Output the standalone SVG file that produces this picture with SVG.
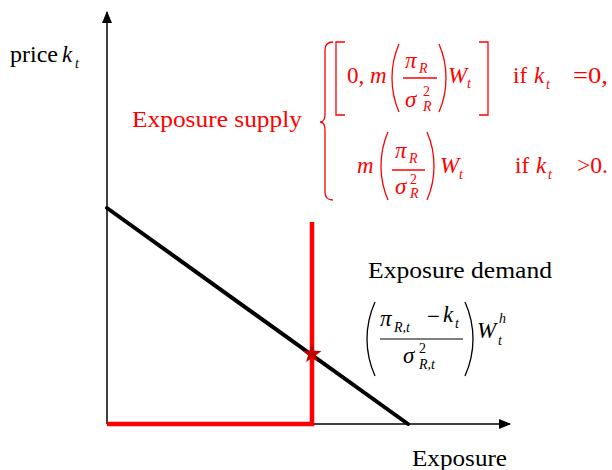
<svg xmlns="http://www.w3.org/2000/svg" width="612" height="470" viewBox="0 0 612 470">
<defs>
<marker id="arr" markerWidth="12" markerHeight="10" refX="11" refY="5" orient="auto" markerUnits="userSpaceOnUse">
<path d="M0,0 L12,5 L0,10 Z" fill="#000"/>
</marker>
</defs>
<style>
text{font-family:'Liberation Serif','DejaVu Serif',serif}
.t{font-size:23px}
.m{font-size:23px;font-style:italic}
.s{font-size:14px;font-style:italic}
.n{font-style:normal}
.r{fill:#ff0000}
.k{fill:#000}
.br{fill:none;stroke-width:1.3}
</style>
<rect width="612" height="470" fill="#fff"/>
<g id="connectors">
<line id="y-axis" x1="107" y1="424" x2="107" y2="12" stroke="#000" stroke-width="1.5" marker-end="url(#arr)"/>
<line id="x-axis" x1="107" y1="424" x2="510" y2="424" stroke="#000" stroke-width="1.5" marker-end="url(#arr)"/>
<line id="demand-line" x1="107" y1="208" x2="408" y2="424" stroke="#000" stroke-width="4" stroke-linecap="round"/>
<polyline id="supply-line" points="107,424 312,424 312,222" fill="none" stroke="#ff0000" stroke-width="4.5"/>
</g>
<g id="equilibrium">
<polygon points="312,344 314.4,350.7 321.5,350.9 315.9,355.3 317.9,362.1 312,358.1 306.1,362.1 308.1,355.3 302.5,350.9 309.6,350.7" fill="#c00000"/>
</g>
<g id="price-label">
<text class="t k" x="10" y="62" textLength="48" lengthAdjust="spacingAndGlyphs">price</text>
<text class="m k" x="62" y="62">k</text>
<text class="s k" x="75" y="68">t</text>
</g>
<g id="exposure-label">
<text class="t k" x="412" y="466" textLength="95" lengthAdjust="spacingAndGlyphs">Exposure</text>
</g>
<g id="supply-label">
<text class="t r" x="132" y="127" textLength="170" lengthAdjust="spacingAndGlyphs">Exposure supply</text>
<path class="br" d="M333,42 Q325,42 325,50 L325,114 Q325,122 320,122 Q325,122 325,130 L325,192 Q325,200 333,200" stroke="#ff0000" stroke-width="1.5"/>
<path class="br" d="M345,42 L336,42 L336,115 L345,115" stroke="#ff0000" stroke-width="1.5"/>
<path class="br" d="M479,42 L488,42 L488,115 L479,115" stroke="#ff0000" stroke-width="1.5"/>
<text class="t r" x="347" y="83">0,</text>
<text class="m r" x="370" y="83" font-size="25">m</text>
<path class="br" d="M399,44 Q392,60 392,78 Q392,96 399,112" stroke="#ff0000"/>
<text class="m r" x="405" y="68">π</text>
<text class="s r" x="419" y="73">R</text>
<line x1="403" y1="78" x2="437" y2="78" stroke="#ff0000" stroke-width="1.3"/>
<text class="m r" x="405" y="107">σ</text>
<text class="s r n" x="423" y="96">2</text>
<text class="s r" x="423" y="111">R</text>
<path class="br" d="M439,44 Q446,60 446,78 Q446,96 439,112" stroke="#ff0000"/>
<text class="m r" x="448" y="83">W</text>
<text class="s r" x="467" y="88">t</text>
<text class="t r" x="513" y="83">if</text>
<text class="m r" x="534" y="83">k</text>
<text class="s r" x="546" y="89">t</text>
<text class="t r" x="573" y="83" textLength="35" lengthAdjust="spacingAndGlyphs">=0,</text>
<text class="m r" x="357" y="173" font-size="25">m</text>
<path class="br" d="M388,132 Q381,148 381,166 Q381,184 388,200" stroke="#ff0000"/>
<text class="m r" x="395" y="158">π</text>
<text class="s r" x="409" y="163">R</text>
<line x1="392" y1="170" x2="425" y2="170" stroke="#ff0000" stroke-width="1.3"/>
<text class="m r" x="395" y="194">σ</text>
<text class="s r n" x="410" y="184">2</text>
<text class="s r" x="410" y="198">R</text>
<path class="br" d="M427,132 Q434,148 434,166 Q434,184 427,200" stroke="#ff0000"/>
<text class="m r" x="440" y="173">W</text>
<text class="s r" x="459" y="179">t</text>
<text class="t r" x="515" y="173">if</text>
<text class="m r" x="536" y="173">k</text>
<text class="s r" x="548" y="179">t</text>
<text class="t r" x="577" y="173" textLength="31" lengthAdjust="spacingAndGlyphs">&gt;0.</text>
</g>
<g id="demand-label">
<text class="t k" x="368" y="278" textLength="184" lengthAdjust="spacingAndGlyphs">Exposure demand</text>
<path class="br" d="M375,302 Q367,320 367,339 Q367,358 375,376" stroke="#000"/>
<text class="m k" x="380" y="326">π</text>
<text class="s k" x="394" y="332">R,t</text>
<text class="t k" x="427" y="324">−</text>
<text class="m k" x="443" y="322">k</text>
<text class="s k" x="455" y="328">t</text>
<line x1="380" y1="339" x2="463" y2="339" stroke="#000" stroke-width="1.2"/>
<text class="m k" x="403" y="363">σ</text>
<text class="s k n" x="419" y="353">2</text>
<text class="s k" x="419" y="369">R,t</text>
<path class="br" d="M465,302 Q473,320 473,339 Q473,358 465,376" stroke="#000"/>
<text class="m k" x="477" y="338">W</text>
<text class="s k" x="498" y="345">t</text>
<text class="s k" x="499" y="323">h</text>
</g>
</svg>
